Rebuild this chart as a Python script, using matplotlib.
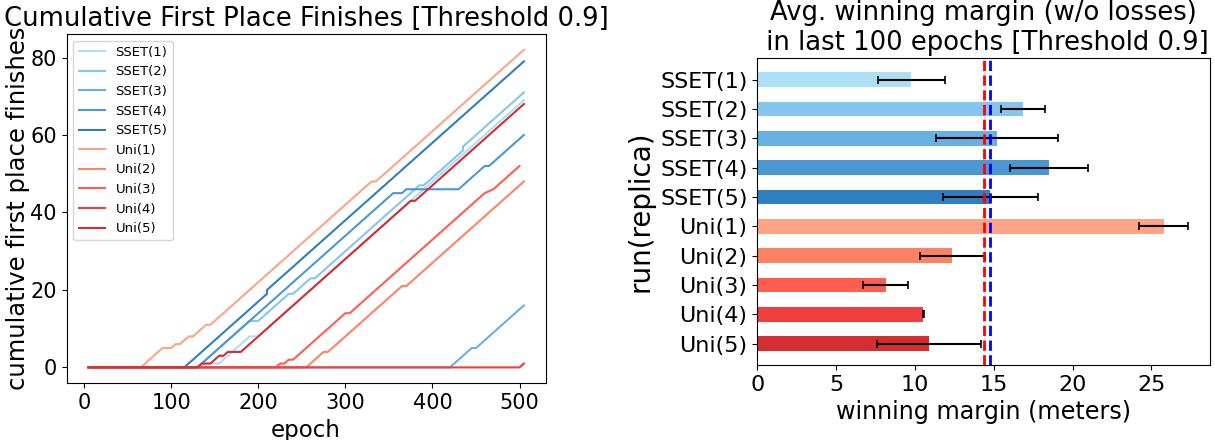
import matplotlib
matplotlib.use('Agg')
import matplotlib.pyplot as plt

# cumulative first place finishes, vertices (epoch, count)
sset1 = [(5, 0), (135, 0), (140, 1), (155, 1), (190, 8), (200, 8), (505, 69)]
sset2 = [(5, 0), (130, 0), (190, 12), (200, 12), (235, 19), (240, 19), (260, 23), (265, 23),
         (385, 47), (390, 47), (435, 56), (435, 57), (505, 71)]
sset3 = [(5, 0), (420, 0), (445, 5), (450, 5), (505, 16)]
sset4 = [(5, 0), (130, 0), (355, 45), (365, 45), (370, 46), (430, 46), (460, 52), (465, 52), (505, 60)]
sset5 = [(5, 0), (115, 0), (210, 19), (210, 20), (505, 79)]
uni1 = [(5, 0), (65, 0), (90, 5), (100, 5), (105, 6), (110, 6), (120, 8), (125, 8), (140, 11),
        (145, 11), (330, 48), (335, 48), (505, 82)]
uni2 = [(5, 0), (255, 0), (275, 4), (280, 4), (365, 21), (370, 21), (505, 48)]
uni3 = [(5, 0), (220, 0), (225, 1), (230, 1), (235, 2), (240, 2), (300, 14), (305, 14),
        (460, 45), (470, 46), (500, 52)]
uni4 = [(5, 0), (500, 0), (505, 1)]
uni5 = [(5, 0), (130, 0), (135, 1), (145, 1), (155, 3), (160, 3), (165, 4), (180, 4),
        (375, 43), (380, 43), (505, 68)]

runs = ['SSET(1)', 'SSET(2)', 'SSET(3)', 'SSET(4)', 'SSET(5)',
        'Uni(1)', 'Uni(2)', 'Uni(3)', 'Uni(4)', 'Uni(5)']
curves = [sset1, sset2, sset3, sset4, sset5, uni1, uni2, uni3, uni4, uni5]
colors = ['#addff5', '#85c6ee', '#67b1e2', '#4a98d3', '#2f7ec2',
          '#ffa386', '#ff8264', '#ff5e4e', '#f03d3d', '#d42d32']

# avg winning margin in last 100 epochs
margin = [9.78, 16.86, 15.22, 18.51, 14.78, 25.78, 12.37, 8.14, 10.54, 10.92]
margin_err = [2.14, 1.42, 3.86, 2.46, 3.0, 1.57, 2.05, 1.45, 0.03, 3.3]
uni_mean = 14.38
sset_mean = 14.76

fig = plt.figure(figsize=(12.15, 4.4), dpi=100)

ax1 = fig.add_axes([0.0549, 0.1289, 0.3942, 0.794])
for name, pts, c in zip(runs, curves, colors):
    ax1.plot([p[0] for p in pts], [p[1] for p in pts], color=c, lw=1.5, label=name)
ax1.set_title('Cumulative First Place Finishes [Threshold 0.9]', fontsize=18.6)
ax1.set_xlabel('epoch', fontsize=16.5)
ax1.set_ylabel('cumulative first place finishes', fontsize=17.5, labelpad=0.5)
ax1.tick_params(labelsize=15)
ax1.set_yticks([0, 20, 40, 60, 80])
ax1.legend(loc='upper left', fontsize=9.5)

ax2 = fig.add_axes([0.6233, 0.1705, 0.3726, 0.697])
ax2.barh(runs, margin, height=0.5, color=colors, xerr=margin_err, capsize=3,
         error_kw=dict(ecolor='black', elinewidth=1.5, capthick=1.2))
ax2.axvline(uni_mean, color='red', ls='--', lw=2)
ax2.axvline(sset_mean, color='blue', ls='--', lw=2)
ax2.invert_yaxis()
ax2.set_title('Avg. winning margin (w/o losses)\n in last 100 epochs [Threshold 0.9]', fontsize=18.6)
ax2.set_xlabel('winning margin (meters)', fontsize=17.2)
ax2.set_ylabel('run(replica)', fontsize=20)
ax2.tick_params(labelsize=16)

fig.savefig('out.png', dpi=100)
